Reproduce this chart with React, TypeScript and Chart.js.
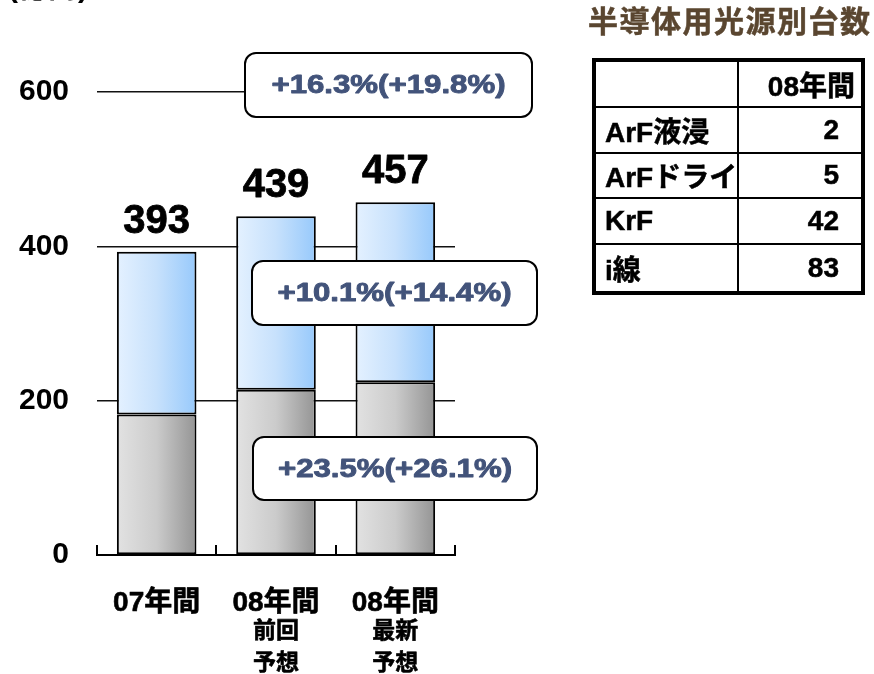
import React, { useEffect, useRef } from "react";
import { Chart, registerables } from "chart.js";

Chart.register(...registerables);

// ---- data ----
const categories = ["07年間", "08年間", "08年間"];
const subLabels: string[][] = [[], ["前回", "予想"], ["最新", "予想"]];
const lowerValues = [182, 214, 224];
const upperValues = [211, 225, 233];
const yTickValues = [0, 200, 400, 600];
const growthLabels = ["+16.3%(+19.8%)", "+10.1%(+14.4%)", "+23.5%(+26.1%)"];
const unitLabel = "(億円)";
const tableTitle = "半導体用光源別台数";
const tableHeader = "08年間";
const tableRows = ["ArF液浸", "ArFドライ", "KrF", "i線"];
const tableValues = [2, 5, 42, 83];

// ---- layout / style ----
const FONT = '"Liberation Sans", Arial, "Noto Sans CJK JP", sans-serif';
const BAR_PCT = 0.667;
const boxRects = [
  { x: 245, y: 53, w: 287, h: 64 },
  { x: 252, y: 261, w: 285, h: 64 },
  { x: 253, y: 437, w: 284, h: 63 },
];

function barGradient(c: any, from: string, mid: string, to: string) {
  const chart = c.chart;
  const xs = chart.scales && chart.scales.x;
  if (c.type !== "data" || !xs || !chart.chartArea) return to;
  const cx = xs.getPixelForValue(c.dataIndex);
  const half = ((xs.right - xs.left) / categories.length) * BAR_PCT / 2;
  const g = chart.ctx.createLinearGradient(cx - half, 0, cx + half, 0);
  g.addColorStop(0, from);
  g.addColorStop(0.5, mid);
  g.addColorStop(1, to);
  return g;
}

function boldText(ctx: any, s: string, x: number, y: number, w = 0.7) {
  ctx.lineWidth = w;
  ctx.strokeStyle = ctx.fillStyle;
  ctx.lineJoin = "round";
  ctx.strokeText(s, x, y);
  ctx.fillText(s, x, y);
}

const overlayPlugin = {
  id: "overlay",
  afterDatasetsDraw(chart: any) {
    const ctx = chart.ctx;
    const xs = chart.scales.x;
    const ys = chart.scales.y;
    ctx.save();
    // totals above bars
    ctx.fillStyle = "#000";
    ctx.textAlign = "center";
    ctx.textBaseline = "alphabetic";
    ctx.font = `bold 40px ${FONT}`;
    categories.forEach((_, i) => {
      const t = lowerValues[i] + upperValues[i];
      boldText(ctx, String(t), xs.getPixelForValue(i), ys.getPixelForValue(t) - 19, 0.8);
    });
    // inward tick marks at category boundaries
    const n = categories.length;
    const step = (xs.right - xs.left) / n;
    ctx.strokeStyle = "#000";
    ctx.lineWidth = 2;
    for (let k = 0; k <= n; k++) {
      const x = Math.round(xs.left + k * step);
      ctx.beginPath();
      ctx.moveTo(x, ys.bottom);
      ctx.lineTo(x, ys.bottom - 10);
      ctx.stroke();
    }
    // category labels
    ctx.fillStyle = "#000";
    ctx.textBaseline = "middle";
    ctx.font = `bold 28px ${FONT}`;
    categories.forEach((s, i) => boldText(ctx, s, xs.getPixelForValue(i), ys.bottom + 48, 0.6));
    ctx.font = `bold 23px ${FONT}`;
    subLabels.forEach((lines, i) =>
      lines.forEach((s, j) => boldText(ctx, s, xs.getPixelForValue(i), ys.bottom + 77 + j * 32, 0.6))
    );
    // growth boxes
    boxRects.forEach((r, i) => {
      ctx.beginPath();
      ctx.roundRect(r.x, r.y, r.w, r.h, 11);
      ctx.fillStyle = "#fff";
      ctx.fill();
      ctx.lineWidth = 2;
      ctx.strokeStyle = "#000";
      ctx.stroke();
      ctx.save();
      ctx.translate(r.x + r.w / 2, r.y + r.h / 2 + 1);
      ctx.scale(1.2, 1);
      ctx.font = `bold 26px ${FONT}`;
      ctx.fillStyle = "#42537a";
      ctx.textAlign = "center";
      ctx.textBaseline = "middle";
      boldText(ctx, growthLabels[i], 0, 0, 0.9);
      ctx.restore();
    });
    // clipped unit label at very top
    ctx.fillStyle = "#000";
    ctx.font = `bold 30px ${FONT}`;
    ctx.textAlign = "left";
    ctx.textBaseline = "alphabetic";
    ctx.fillText(unitLabel, 8, -3);
    ctx.restore();
  },
};

export default function App() {
  const ref = useRef<HTMLCanvasElement | null>(null);

  useEffect(() => {
    if (!ref.current) return;
    const chart = new Chart(ref.current, {
      type: "bar",
      data: {
        labels: categories,
        datasets: [
          {
            label: "lower",
            data: lowerValues,
            backgroundColor: (c: any) => barGradient(c, "#e2e2e2", "#cbcbcb", "#949494"),
            borderColor: "#000",
            borderWidth: 2,
            borderSkipped: false,
            barPercentage: BAR_PCT,
            categoryPercentage: 1,
          },
          {
            label: "upper",
            data: upperValues,
            backgroundColor: (c: any) => barGradient(c, "#e4f1ff", "#c7e1fc", "#97c9fb"),
            borderColor: "#000",
            borderWidth: 2,
            borderSkipped: false,
            barPercentage: BAR_PCT,
            categoryPercentage: 1,
          },
        ],
      },
      options: {
        animation: false,
        responsive: false,
        devicePixelRatio: 1,
        layout: { padding: { top: 92, left: 0, right: 419, bottom: 0 } },
        plugins: { legend: { display: false }, tooltip: { enabled: false } },
        scales: {
          x: {
            stacked: true,
            ticks: { display: false },
            grid: { display: false, drawTicks: false },
            border: { display: true, color: "#000", width: 2 },
            afterFit: (s: any) => {
              s.height = 119;
            },
          },
          y: {
            stacked: true,
            min: yTickValues[0],
            max: yTickValues[yTickValues.length - 1],
            afterBuildTicks: (s: any) => {
              s.ticks = yTickValues.map((v) => ({ value: v }));
            },
            ticks: {
              font: { size: 30, weight: "bold", family: FONT },
              color: "#000",
              padding: 28,
            },
            grid: { color: "#111", lineWidth: 1.5, drawTicks: false },
            border: { display: false },
            afterFit: (s: any) => {
              s.width = 97;
            },
          },
        },
      },
      plugins: [overlayPlugin],
    } as any);
    return () => chart.destroy();
  }, []);

  const cellFont = `bold 28px ${FONT}`;
  const rowH = 44;
  const stroke = { WebkitTextStroke: "0.5px currentColor" } as any;
  return (
    <div
      style={{
        position: "absolute",
        left: 0,
        top: 0,
        width: 874,
        height: 674,
        overflow: "hidden",
        background: "#fff",
      }}
    >
      <canvas ref={ref} width={874} height={674} style={{ position: "absolute", left: 0, top: 0 }} />
      <div
        style={{
          position: "absolute",
          left: 588,
          top: 7,
          font: `bold 30px ${FONT}`,
          lineHeight: "30px",
          letterSpacing: "1.5px",
          color: "#5a4630",
          whiteSpace: "nowrap",
          ...stroke,
        }}
      >
        {tableTitle}
      </div>
      <table
        style={{
          position: "absolute",
          left: 592,
          top: 58,
          width: 273,
          height: 237,
          boxSizing: "border-box",
          border: "4px solid #000",
          borderCollapse: "separate",
          borderSpacing: 0,
          color: "#000",
          font: cellFont,
          ...stroke,
        }}
      >
        <tbody>
          <tr style={{ height: rowH }}>
            <td style={{ width: 139, borderRight: "2px solid #000", borderBottom: "2px solid #000", padding: 0 }} />
            <td
              style={{
                borderBottom: "2px solid #000",
                padding: "0 6px 0 0",
                textAlign: "right",
                whiteSpace: "nowrap",
              }}
            >
              {tableHeader}
            </td>
          </tr>
          {tableRows.map((name, i) => {
            const last = i === tableRows.length - 1;
            return (
              <tr key={name} style={{ height: rowH }}>
                <td
                  style={{
                    borderRight: "2px solid #000",
                    borderBottom: last ? "none" : "2px solid #000",
                    padding: "0 0 0 9px",
                    whiteSpace: "nowrap",
                  }}
                >
                  {name}
                </td>
                <td
                  style={{
                    borderBottom: last ? "none" : "2px solid #000",
                    padding: "0 22px 0 0",
                    textAlign: "right",
                  }}
                >
                  {tableValues[i]}
                </td>
              </tr>
            );
          })}
        </tbody>
      </table>
    </div>
  );
}
